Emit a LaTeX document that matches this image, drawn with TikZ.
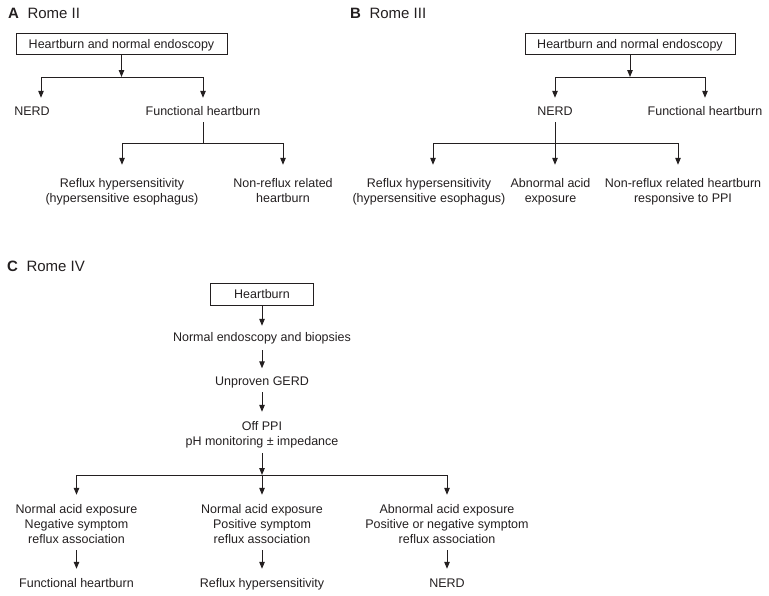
\documentclass[tikz,border=0pt]{standalone}
\usepackage{fontspec}
\setmainfont{Liberation Sans}
\usetikzlibrary{arrows.meta}
\definecolor{ink}{HTML}{231F20}
\begin{document}
\begin{tikzpicture}[x=1pt,y=-1pt,
  lbl/.style={inner sep=0pt, align=center, text=ink, font=\fontsize{12.5}{15}\selectfont},
  boxn/.style={lbl, draw=ink, line width=1pt, minimum height=21pt, text height=9pt, text depth=0pt},
  ttl/.style={anchor=base west, inner sep=0pt, text=ink, font=\fontsize{15}{18}\selectfont},
  ln/.style={draw=ink, line width=1pt},
  arr/.style={ln, -{Triangle[length=7pt,width=5.5pt]}},
]
\useasboundingbox (0,0) rectangle (769,595);

% ---------------- Panel A ----------------
\node[ttl] (tA) at (8,18) {\textbf{A}\hspace{8.5pt}Rome II};
\node[boxn, minimum width=211pt] (a0) at (121.5,44) {Heartburn and normal endoscopy};
\node[lbl] (a1) at (32,112) {\strut NERD};
\node[lbl] (a2) at (203,112) {\strut Functional heartburn};
\node[lbl] (a3) at (122,191.5) {\strut Reflux hypersensitivity\\\strut (hypersensitive esophagus)};
\node[lbl] (a4) at (283,191.5) {\strut Non-reflux related\\\strut heartburn};
\coordinate (ja1) at (121.5,77);
\coordinate (ja1L) at (41,77);
\coordinate (ja1R) at (203,77);
\draw[arr] (a0.south) -- (ja1);
\draw[ln] (ja1L) -- (ja1R);
\draw[arr, shorten >=6.5pt] (ja1L) -- (ja1L |- a1.north);
\draw[arr, shorten >=6.5pt] (ja1R) -- (a2.north);
\coordinate (ja2) at (203,143);
\coordinate (ja2L) at (122,143);
\coordinate (ja2R) at (283,143);
\draw[ln, shorten <=2.5pt] (a2.south) -- (ja2);
\draw[ln] (ja2L) -- (ja2R);
\draw[arr, shorten >=11.5pt] (ja2L) -- (a3.north);
\draw[arr, shorten >=11.5pt] (ja2R) -- (a4.north);

% ---------------- Panel B ----------------
\node[ttl] (tB) at (350,18) {\textbf{B}\hspace{8.5pt}Rome III};
\node[boxn, minimum width=210pt] (b0) at (630,44) {Heartburn and normal endoscopy};
\node[lbl] (b1) at (555,112) {\strut NERD};
\node[lbl] (b2) at (705,112) {\strut Functional heartburn};
\node[lbl] (b3) at (429,191.5) {\strut Reflux hypersensitivity\\\strut (hypersensitive esophagus)};
\node[lbl] (b4) at (550.5,191.5) {\strut Abnormal acid\\\strut exposure};
\node[lbl] (b5) at (683,191.5) {\strut Non-reflux related heartburn\\\strut responsive to PPI};
\coordinate (jb1) at (630,77);
\coordinate (jb1L) at (555,77);
\coordinate (jb1R) at (705,77);
\draw[arr] (b0.south) -- (jb1);
\draw[ln] (jb1L) -- (jb1R);
\draw[arr, shorten >=6.5pt] (jb1L) -- (b1.north);
\draw[arr, shorten >=6.5pt] (jb1R) -- (b2.north);
\coordinate (jb2L) at (433,143);
\coordinate (jb2R) at (678,143);
\draw[ln] (jb2L) -- (jb2R);
\draw[arr, shorten <=2.5pt, shorten >=11.5pt] (b1.south) -- (b1.south |- b4.north);
\draw[arr, shorten >=11.5pt] (jb2L) -- (jb2L |- b3.north);
\draw[arr, shorten >=11.5pt] (jb2R) -- (jb2R |- b5.north);

% ---------------- Panel C ----------------
\node[ttl] (tC) at (7,271) {\textbf{C}\hspace{8.5pt}Rome IV};
\node[boxn, minimum width=103pt, minimum height=22pt] (c0) at (262,294) {Heartburn};
\node[lbl] (c1) at (262,338.5) {\strut Normal endoscopy and biopsies};
\node[lbl] (c2) at (262,382.5) {\strut Unproven GERD};
\node[lbl] (c3) at (262,434.5) {\strut Off PPI\\\strut pH monitoring ± impedance};
\node[lbl] (c4) at (76.5,525.5) {\strut Normal acid exposure\\\strut Negative symptom\\\strut reflux association};
\node[lbl] (c5) at (262,525.5) {\strut Normal acid exposure\\\strut Positive symptom\\\strut reflux association};
\node[lbl] (c6) at (447,525.5) {\strut Abnormal acid exposure\\\strut Positive or negative symptom\\\strut reflux association};
\node[lbl] (c7) at (76.5,584.5) {\strut Functional heartburn};
\node[lbl] (c8) at (262,584.5) {\strut Reflux hypersensitivity};
\node[lbl] (c9) at (447,584.5) {\strut NERD};
\draw[arr, shorten >=5pt] (c0.south) -- (c1.north);
\draw[arr, shorten <=4pt, shorten >=6.5pt] (c1.south) -- (c2.north);
\draw[arr, shorten <=2pt, shorten >=7.5pt] (c2.south) -- (c3.north);
\coordinate (jc) at (262,475);
\coordinate (jcL) at (76.5,475);
\coordinate (jcR) at (447,475);
\draw[arr, shorten <=3.5pt] (c3.south) -- (jc);
\draw[ln] (jcL) -- (jcR);
\draw[arr, shorten >=8pt] (jc) -- (c5.north);
\draw[arr, shorten >=8pt] (jcL) -- (c4.north);
\draw[arr, shorten >=8pt] (jcR) -- (c6.north);
\draw[arr, shorten <=2pt, shorten >=8pt] (c4.south) -- (c7.north);
\draw[arr, shorten <=2pt, shorten >=8pt] (c5.south) -- (c8.north);
\draw[arr, shorten <=2pt, shorten >=8pt] (c6.south) -- (c9.north);
\end{tikzpicture}
\end{document}
